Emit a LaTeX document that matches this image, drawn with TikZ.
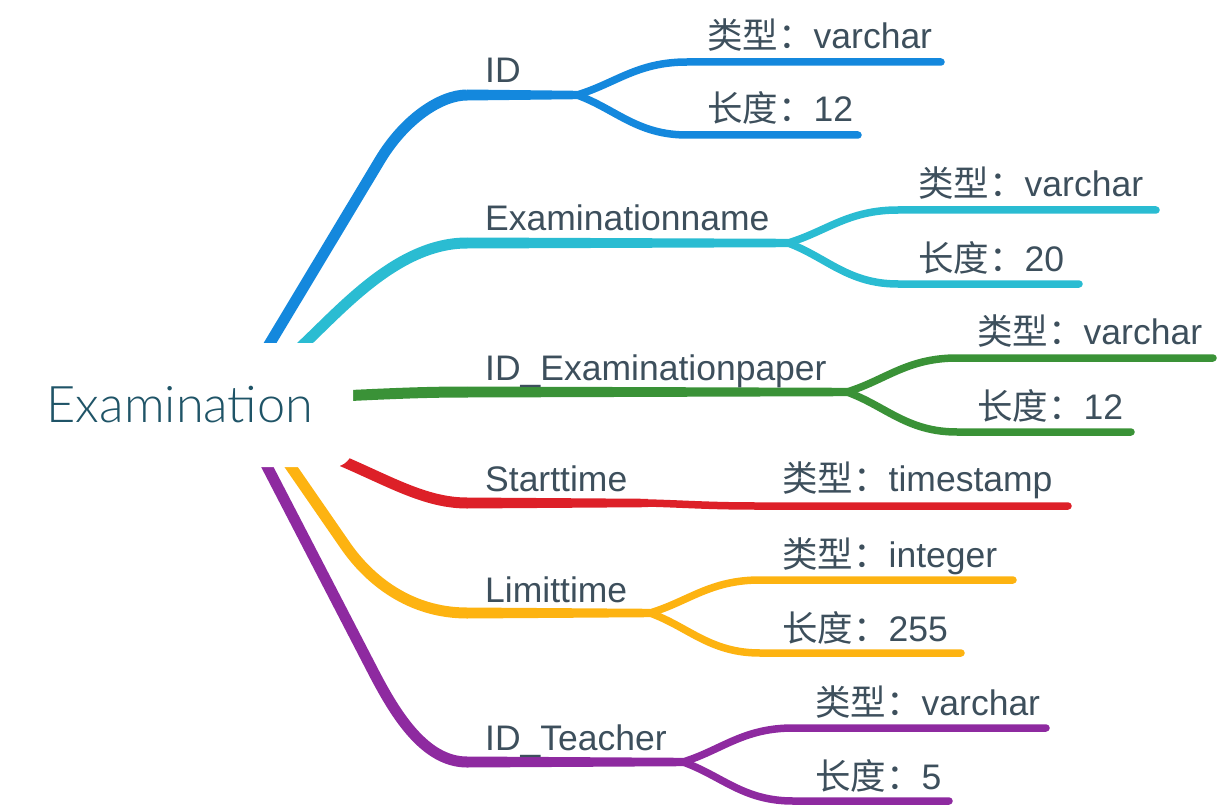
\documentclass[tikz,border=0pt]{standalone}
\usepackage{fontspec}
\setmainfont{Liberation Sans}
\newfontfamily\cjk{Noto Sans CJK SC}
\newfontfamily\rootfont{Lato Light}
\usetikzlibrary{calc}
\pgfdeclarelayer{bg}
\pgfsetlayers{bg,main}
\definecolor{cBlue}{HTML}{1488DD}
\definecolor{cCyan}{HTML}{2ABCD2}
\definecolor{cGreen}{HTML}{3A9237}
\definecolor{cRed}{HTML}{DD2028}
\definecolor{cYellow}{HTML}{FDB311}
\definecolor{cPurple}{HTML}{8E2AA0}
\definecolor{txt}{HTML}{3D4F5C}
\definecolor{roottxt}{HTML}{1F5467}
\newcommand\lbl[2]{{\cjk #1}#2}
\newcommand\subbr[4]{\draw[subline,#1] (#2) .. controls ($(#2)!0.35!(#3)$) and ($(#3)+(-50,0)$) .. (#3) -- (#4);}
\newcommand\mainbar[3]{\fill[#1] ($(#2)+(0,-5.5)$) -- ($(#3)+(0,-4.2)$) -- ($(#3)+(0,4.2)$) -- ($(#2)+(0,5.5)$) -- cycle;}
\tikzset{
  rootnode/.style={fill=white, rounded corners=20pt, minimum width=346pt, minimum height=124pt, inner sep=0pt, text=roottxt, font=\rootfont\fontsize{50.5}{58}\selectfont},
  lblnode/.style={anchor=base west, inner sep=0pt, text=txt, font=\fontsize{35.5}{42}\selectfont},
  maincurve/.style={line width=11pt, line cap=butt},
  subline/.style={line width=7.5pt, line cap=round},
}
\begin{document}
\begin{tikzpicture}[x=1pt,y=-1pt]
\useasboundingbox (0,0) rectangle (1222,810);
\node[rootnode] (root) at (180,405) {Examination};
% hidden starts inside root
\coordinate (s1) at (240,393);
\coordinate (s2) at (265,381);
\coordinate (s3) at (300,398);
\coordinate (s4) at (320,452);
\coordinate (s5) at (260,422);
\coordinate (s6) at (243,420);
% main label line starts and forks
\coordinate (m1) at (467,95);  \coordinate (f1) at (577,95);
\coordinate (m2) at (467,243); \coordinate (f2) at (788,243);
\coordinate (m3) at (467,392); \coordinate (f3) at (847,392);
\coordinate (m4) at (467,503); \coordinate (f4) at (648,503);
\coordinate (m5) at (467,613); \coordinate (f5) at (650,613);
\coordinate (m6) at (467,762); \coordinate (f6) at (683,762);
% sub lines
\coordinate (a1) at (687,62);   \coordinate (a1e) at (941,62);
\coordinate (b1) at (687,135);  \coordinate (b1e) at (858,135);
\coordinate (a2) at (898,210);  \coordinate (a2e) at (1156,210);
\coordinate (b2) at (898,284);  \coordinate (b2e) at (1079,284);
\coordinate (a3) at (957,358);  \coordinate (a3e) at (1213,358);
\coordinate (b3) at (957,432);  \coordinate (b3e) at (1131,432);
\coordinate (a4) at (758,506);  \coordinate (a4e) at (1068,506);
\coordinate (a5) at (760,580);  \coordinate (a5e) at (1013,580);
\coordinate (b5) at (760,653);  \coordinate (b5e) at (961,653);
\coordinate (a6) at (793,728);  \coordinate (a6e) at (1046,728);
\coordinate (b6) at (793,801);  \coordinate (b6e) at (949,801);
\begin{pgfonlayer}{bg}
  % blue
  \draw[maincurve,cBlue] (s1) -- (380,160) .. controls (404,120) and (440,95) .. (m1);
  \mainbar{cBlue}{m1}{f1}
  \subbr{cBlue}{f1}{a1}{a1e}
  \subbr{cBlue}{f1}{b1}{b1e}
  % cyan
  \draw[maincurve,cCyan] (s2) -- (305,343) .. controls (345,305) and (400,243) .. (m2);
  \mainbar{cCyan}{m2}{f2}
  \subbr{cCyan}{f2}{a2}{a2e}
  \subbr{cCyan}{f2}{b2}{b2e}
  % green
  \draw[maincurve,cGreen] (s3) .. controls (380,394) and (420,392) .. (m3);
  \mainbar{cGreen}{m3}{f3}
  \subbr{cGreen}{f3}{a3}{a3e}
  \subbr{cGreen}{f3}{b3}{b3e}
  % red
  \draw[maincurve,cRed] (s4) .. controls (380,475) and (420,503) .. (m4);
  \mainbar{cRed}{m4}{f4}
  \subbr{cRed}{f4}{a4}{a4e}
  % yellow
  \draw[maincurve,cYellow] (s5) -- (345,545) .. controls (369,580) and (410,613) .. (m5);
  \mainbar{cYellow}{m5}{f5}
  \subbr{cYellow}{f5}{a5}{a5e}
  \subbr{cYellow}{f5}{b5}{b5e}
  % purple
  \draw[maincurve,cPurple] (s6) -- (375,675) .. controls (396,715) and (425,762) .. (m6);
  \mainbar{cPurple}{m6}{f6}
  \subbr{cPurple}{f6}{a6}{a6e}
  \subbr{cPurple}{f6}{b6}{b6e}
\end{pgfonlayer}
% labels
\node[lblnode] (l1) at (485,83) {ID};
\node[lblnode] (l1a) at (707,49) {\lbl{类型：}{varchar}};
\node[lblnode] (l1b) at (707,122) {\lbl{长度：}{12}};
\node[lblnode] (l2) at (485,231) {Examinationname};
\node[lblnode] (l2a) at (918,197) {\lbl{类型：}{varchar}};
\node[lblnode] (l2b) at (918,271) {\lbl{长度：}{20}};
\node[lblnode] (l3) at (485,380) {ID\_Examinationpaper};
\node[lblnode] (l3a) at (977,344) {\lbl{类型：}{varchar}};
\node[lblnode] (l3b) at (977,419) {\lbl{长度：}{12}};
\node[lblnode] (l4) at (485,491) {Starttime};
\node[lblnode] (l4a) at (782,491) {\lbl{类型：}{timestamp}};
\node[lblnode] (l5) at (485,602) {Limittime};
\node[lblnode] (l5a) at (782,567) {\lbl{类型：}{integer}};
\node[lblnode] (l5b) at (782,641) {\lbl{长度：}{255}};
\node[lblnode] (l6) at (485,750) {ID\_Teacher};
\node[lblnode] (l6a) at (815,715) {\lbl{类型：}{varchar}};
\node[lblnode] (l6b) at (815,789) {\lbl{长度：}{5}};
\end{tikzpicture}
\end{document}
